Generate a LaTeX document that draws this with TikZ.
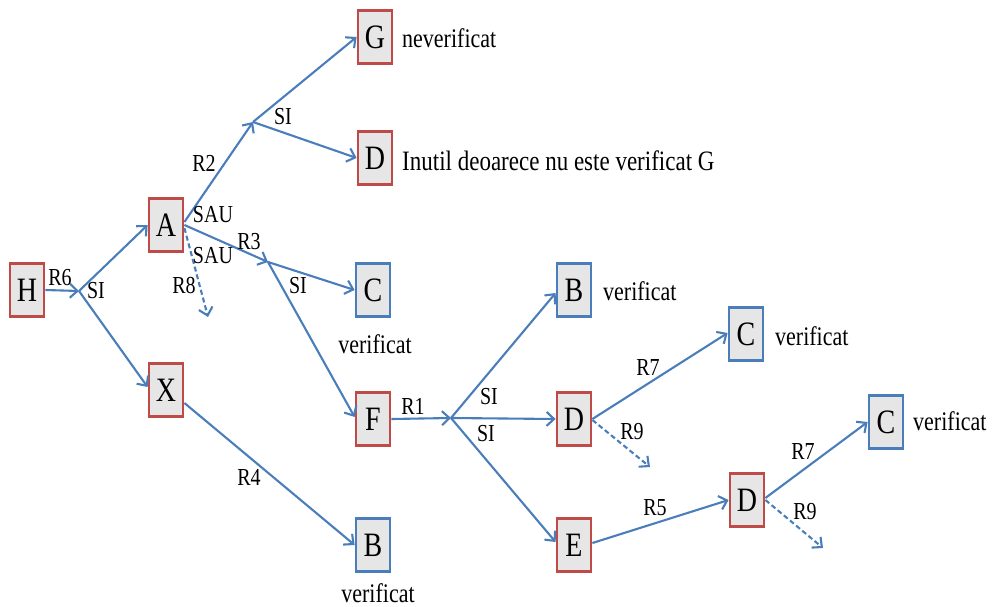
\documentclass[tikz,border=0pt]{standalone}
\usepackage{fontspec}
\usepackage{graphicx}
\setmainfont{Liberation Serif}
\usetikzlibrary{arrows.meta}
\definecolor{linkblue}{HTML}{4A7EBB}
\definecolor{boxred}{HTML}{BE4B48}
\definecolor{boxfill}{HTML}{E6E6E6}
% slightly tall lettering
\newcommand{\tallt}[1]{\scalebox{1}[1.22]{#1}}

\begin{document}
\begin{tikzpicture}[x=1pt,y=-1pt,
  box/.style={draw=boxred, fill=boxfill, line width=2.8pt, minimum width=34pt,
    minimum height=53pt, inner sep=0pt, font=\fontsize{28}{30}\selectfont},
  okbox/.style={box, draw=linkblue},
  link/.style={draw=linkblue, line width=2.1pt,
    -{Straight Barb[length=7.5pt,width=14pt]}},
  maybe/.style={link, dash pattern=on 5pt off 3pt},
  lbl/.style={font=\fontsize{20}{22}\selectfont, inner sep=0pt},
  note/.style={font=\fontsize{22}{24}\selectfont, inner sep=0pt},
]
\fill[white] (0,0) rectangle (995,607);
\useasboundingbox (0,0) rectangle (995,607);

% goal and rule nodes
\node[box]   (H)  at (27,290)  {\tallt{H}};
\node[box]   (A)  at (166,225) {\tallt{A}};
\node[box]   (X)  at (166,390) {\tallt{X}};
\node[box]   (G)  at (375,37)  {\tallt{G}};
\node[box]   (Dt) at (375,158) {\tallt{D}};
\node[okbox] (Cm) at (373,290) {\tallt{C}};
\node[box]   (F)  at (373,419) {\tallt{F}};
\node[okbox] (Bb) at (373,545) {\tallt{B}};
\node[okbox] (Br) at (574,290) {\tallt{B}};
\node[box]   (Dm) at (574,419) {\tallt{D}};
\node[box]   (E)  at (574,545) {\tallt{E}};
\node[box]   (Dl) at (747,500) {\tallt{D}};
\node[okbox] (Cu) at (746,334) {\tallt{C}};
\node[okbox] (Cl) at (886,422) {\tallt{C}};

% branching points and open ends
\coordinate (j1) at (79,291);
\coordinate (j2) at (253,122);
\coordinate (j3) at (268,262);
\coordinate (j4) at (451,418);
\coordinate (r8end) at (208,317);
\coordinate (r9a) at (650,467);
\coordinate (r9b) at (823,548);

% connectors
\draw[link] (H.east) -- (j1);
\draw[link] (j1) -- (A.west);
\draw[link] (j1) -- ([yshift=3pt]X.west);
\draw[link] ([yshift=3pt]A.east) -- (j2);
\draw[link] (j2) -- (G.west);
\draw[link] (j2) -- (Dt.west);
\draw[link] (A.east) -- (j3);
\draw[maybe] ([yshift=-3pt]A.east) -- (r8end);
\draw[link] (j3) -- (Cm.west);
\draw[link] (j3) -- ([yshift=2pt]F.west);
\draw[link] ([yshift=-13pt]X.east) -- (Bb.west);
\draw[link] (F.east) -- (j4);
\draw[link] (j4) -- ([yshift=-3pt]Br.west);
\draw[link] (j4) -- (Dm.west);
\draw[link] (j4) -- ([yshift=3pt]E.west);
\draw[link] (Dm.east) -- ([yshift=1pt]Cu.west);
\draw[maybe] ([yshift=-1pt]Dm.east) -- (r9a);
\draw[link] ([yshift=2pt]E.east) -- (Dl.west);
\draw[link] ([yshift=2pt]Dl.east) -- (Cl.west);
\draw[maybe] (Dl.east) -- (r9b);

% connector labels
\node[lbl] (lR6)  at (60,278)  {\tallt{R6}};
\node[lbl] (lSI1) at (96,291)  {\tallt{SI}};
\node[lbl] (lR2)  at (204,163) {\tallt{R2}};
\node[lbl] (lSI2) at (283,117) {\tallt{SI}};
\node[lbl] (lSAU1) at (213,215) {\tallt{SAU}};
\node[lbl] (lSAU2) at (213,256) {\tallt{SAU}};
\node[lbl] (lR3)  at (249,242) {\tallt{R3}};
\node[lbl] (lR8)  at (184,286) {\tallt{R8}};
\node[lbl] (lSI3) at (298,286) {\tallt{SI}};
\node[lbl] (lR4)  at (249,477) {\tallt{R4}};
\node[lbl] (lR1)  at (413,406) {\tallt{R1}};
\node[lbl] (lSI4) at (489,397) {\tallt{SI}};
\node[lbl] (lSI5) at (486,434) {\tallt{SI}};
\node[lbl] (lR7a) at (648,368) {\tallt{R7}};
\node[lbl] (lR9a) at (632,432) {\tallt{R9}};
\node[lbl] (lR5)  at (655,508) {\tallt{R5}};
\node[lbl] (lR7b) at (803,452) {\tallt{R7}};
\node[lbl] (lR9b) at (805,512) {\tallt{R9}};

% status notes
\node[note, anchor=west] (nG)  at (402,38)  {\tallt{neverificat}};
\node[note, anchor=west, font=\fontsize{23}{25}\selectfont] (nDt) at (402,161)
  {\tallt{Inutil deoarece nu este verificat G}};
\node[note]              (nCm) at (375,344) {\tallt{verificat}};
\node[note, anchor=west] (nBr) at (603,291) {\tallt{verificat}};
\node[note, anchor=west] (nCu) at (775,336) {\tallt{verificat}};
\node[note, anchor=west] (nCl) at (913,421) {\tallt{verificat}};
\node[note]              (nBb) at (378,593) {\tallt{verificat}};
\end{tikzpicture}
\end{document}
